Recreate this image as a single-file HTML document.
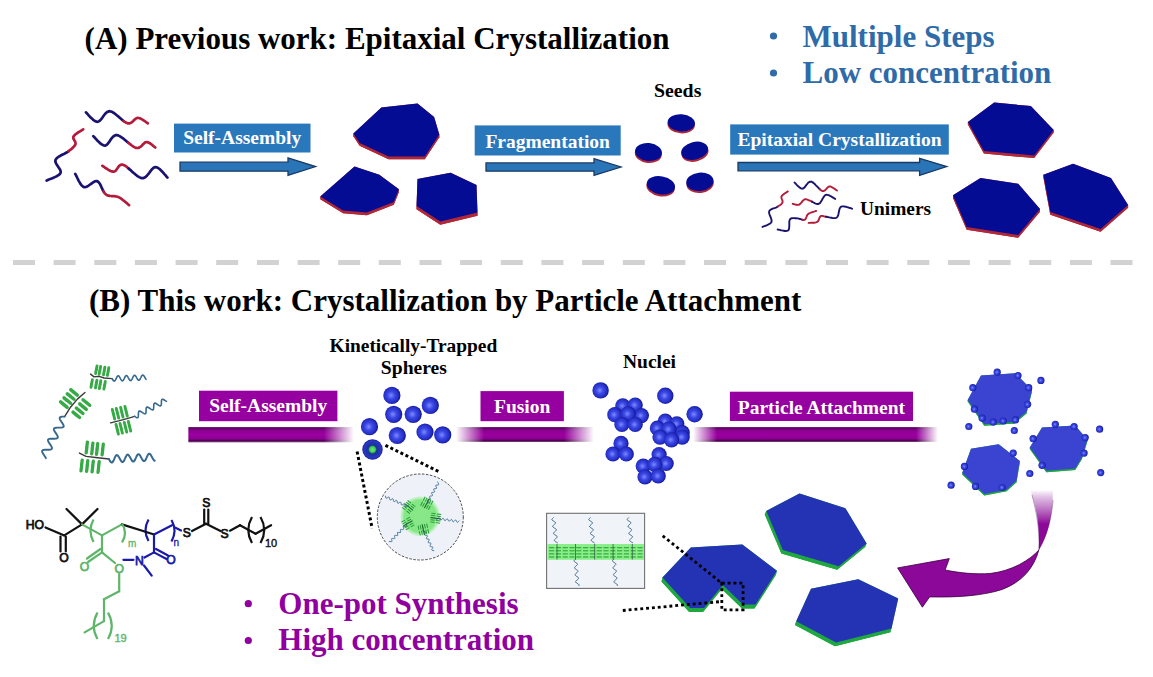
<!DOCTYPE html><html><head><meta charset="utf-8"><style>html,body{margin:0;padding:0;background:#fff;overflow:hidden}svg{display:block}</style></head><body><svg width="1153" height="677" viewBox="0 0 1153 677"><defs>
<radialGradient id="sph" cx="0.45" cy="0.5" r="0.55">
<stop offset="0" stop-color="#7c8cff"/><stop offset="0.4" stop-color="#3c48e4"/><stop offset="0.75" stop-color="#2630c8"/><stop offset="1" stop-color="#10148a"/>
</radialGradient>
<linearGradient id="barV" x1="0" y1="0" x2="0" y2="1">
<stop offset="0" stop-color="#7a3080"/><stop offset="0.1" stop-color="#640068"/><stop offset="0.22" stop-color="#880090"/><stop offset="0.5" stop-color="#9c00a0"/><stop offset="0.76" stop-color="#8c0094"/><stop offset="0.88" stop-color="#520054"/><stop offset="1" stop-color="#8a5a8a"/>
</linearGradient>
</defs>
<text x="84.6" y="48.6" style="font-family:'Liberation Serif',serif;font-weight:bold;font-size:31px" fill="#000" text-anchor="start" >(A) Previous work: Epitaxial Crystallization</text>
<circle cx="773.5" cy="36" r="3.6" fill="#2e6ba8"/>
<circle cx="773.5" cy="73" r="3.6" fill="#2e6ba8"/>
<text x="802.5" y="46.7" style="font-family:'Liberation Serif',serif;font-weight:bold;font-size:31px" fill="#2e6ba8" text-anchor="start" >Multiple Steps</text>
<text x="802.5" y="83.2" style="font-family:'Liberation Serif',serif;font-weight:bold;font-size:31px" fill="#2e6ba8" text-anchor="start" >Low concentration</text>
<rect x="174" y="123.6" width="136.5" height="28.900000000000006" fill="#2a78bc"/>
<text x="242.25" y="144.4" style="font-family:'Liberation Serif',serif;font-weight:bold;font-size:19.5px" fill="#fff" text-anchor="middle" >Self-Assembly</text>
<polygon points="180.0,162.2 288.0,162.2 288.0,158.0 315.6,166.6 288.0,175.4 288.0,171.2 180.0,171.2" fill="#2a74b8" stroke="#1a3a66" stroke-width="1.3"/>
<rect x="474.7" y="125.4" width="146.00000000000006" height="30.099999999999994" fill="#2a78bc"/>
<text x="547.7" y="147.6" style="font-family:'Liberation Serif',serif;font-weight:bold;font-size:19.5px" fill="#fff" text-anchor="middle" >Fragmentation</text>
<polygon points="486.0,162.9 594.0,162.9 594.0,158.7 621.0,167.0 594.0,175.4 594.0,171.2 486.0,171.2" fill="#2a74b8" stroke="#1a3a66" stroke-width="1.3"/>
<rect x="730.2" y="124.4" width="218.5999999999999" height="30.19999999999999" fill="#2a78bc"/>
<text x="839.5" y="146.2" style="font-family:'Liberation Serif',serif;font-weight:bold;font-size:19.5px" fill="#fff" text-anchor="middle" >Epitaxial Crystallization</text>
<polygon points="738.0,162.5 919.6,162.5 919.6,158.3 946.7,166.6 919.6,175.4 919.6,170.8 738.0,170.8" fill="#2a74b8" stroke="#1a3a66" stroke-width="1.3"/>
<polyline points="85.9,112.4 86.5,112.9 87.2,113.7 88.0,114.6 88.9,115.6 89.9,116.7 91.0,117.8 92.1,118.8 93.2,119.8 94.4,120.6 95.5,121.3 96.6,121.7 97.6,121.8 98.6,121.5 99.5,120.9 100.5,120.0 101.4,118.9 102.3,117.7 103.3,116.3 104.2,115.0 105.2,113.8 106.3,112.7 107.3,111.9 108.5,111.4 109.7,111.2 111.0,111.5 112.4,112.1 113.9,113.0 115.5,114.2 117.1,115.5 118.8,116.9 120.4,118.3 122.0,119.7 123.5,121.0" fill="none" stroke="#1a1270" stroke-width="2.7" stroke-linecap="round" stroke-linejoin="round" />
<polyline points="123.5,121.0 125.0,122.0 126.4,122.8 127.6,123.3 128.7,123.4 129.7,123.3 130.7,122.9 131.6,122.4 132.4,121.7 133.2,121.0 133.9,120.3 134.7,119.5 135.4,118.9 136.2,118.4 137.0,118.0 137.8,117.9 138.7,118.0 139.6,118.2 140.6,118.6 141.5,119.1 142.5,119.7 143.5,120.3 144.4,120.9 145.3,121.5 146.1,122.1 146.8,122.6 147.4,123.0 147.9,123.3" fill="none" stroke="#b41a3a" stroke-width="2.7" stroke-linecap="round" stroke-linejoin="round" />
<polyline points="93.3,136.2 93.9,136.7 94.6,137.5 95.4,138.4 96.3,139.4 97.3,140.5 98.4,141.6 99.5,142.6 100.7,143.6 101.8,144.4 102.9,145.1 104.0,145.5 105.0,145.6 106.0,145.3 106.9,144.7 107.7,143.8 108.6,142.7 109.5,141.5 110.4,140.1 111.3,138.8 112.2,137.6 113.2,136.6 114.3,135.7 115.5,135.2 116.7,135.1 118.1,135.4 119.6,136.1 121.2,137.1 123.0,138.3 124.7,139.7 126.5,141.2 128.3,142.7" fill="none" stroke="#1a1270" stroke-width="2.7" stroke-linecap="round" stroke-linejoin="round" />
<polyline points="128.3,142.7 130.1,144.1 131.8,145.5 133.4,146.6 134.9,147.4 136.2,147.9 137.4,148.0 138.5,147.9 139.4,147.5 140.3,146.9 141.2,146.2 142.0,145.5 142.7,144.7 143.4,143.9 144.2,143.2 144.9,142.6 145.6,142.3 146.4,142.1 147.2,142.2 148.1,142.4 148.9,142.8 149.8,143.3 150.7,143.8 151.5,144.4 152.3,145.1 153.0,145.7 153.7,146.3 154.3,146.8 154.9,147.2 155.3,147.5" fill="none" stroke="#b41a3a" stroke-width="2.7" stroke-linecap="round" stroke-linejoin="round" />
<polyline points="46.6,180.5 47.3,180.2 48.3,179.7 49.5,179.3 50.9,178.8 52.4,178.2 53.9,177.6 55.3,176.9 56.8,176.2 58.0,175.4 59.1,174.7 60.0,173.8 60.5,173.0 60.7,172.1 60.6,171.1 60.2,170.0 59.6,168.9 58.8,167.8 58.0,166.6 57.3,165.4 56.5,164.2 55.9,163.1 55.5,162.0 55.3,161.0 55.5,160.0 56.0,159.1 56.7,158.3 57.6,157.5 58.8,156.7 60.0,156.0 61.3,155.2 62.7,154.5 64.0,153.9 65.3,153.2 66.6,152.5 67.7,151.9 68.6,151.2" fill="none" stroke="#1a1270" stroke-width="2.7" stroke-linecap="round" stroke-linejoin="round" />
<polyline points="68.6,151.2 69.4,150.5 70.2,149.9 71.0,149.3 71.7,148.7 72.4,148.1 73.0,147.5 73.6,146.9 74.1,146.4 74.5,145.8 74.9,145.2 75.3,144.6 75.5,144.0 75.6,143.4 75.5,142.8 75.4,142.1 75.1,141.5 74.7,140.9 74.3,140.2 74.0,139.6 73.6,139.0 73.4,138.4 73.3,137.7 73.3,137.1 73.5,136.5 73.9,135.9 74.6,135.2 75.3,134.5 76.2,133.8 77.2,133.1 78.2,132.4 79.3,131.8 80.3,131.2 81.2,130.6 82.0,130.1 82.7,129.6 83.2,129.3" fill="none" stroke="#b41a3a" stroke-width="2.7" stroke-linecap="round" stroke-linejoin="round" />
<polyline points="102.3,165.8 102.9,166.1 103.6,166.6 104.4,167.2 105.3,167.8 106.4,168.5 107.4,169.2 108.5,169.9 109.6,170.5 110.7,171.0 111.8,171.4 112.8,171.6 113.7,171.7 114.5,171.5 115.2,171.0 115.9,170.4 116.5,169.6 117.1,168.7 117.8,167.7 118.4,166.8 119.1,166.0 119.9,165.3 120.7,164.8 121.7,164.6 122.8,164.7 124.1,165.2 125.5,166.0 127.1,167.2 128.7,168.6" fill="none" stroke="#b41a3a" stroke-width="2.7" stroke-linecap="round" stroke-linejoin="round" />
<polyline points="128.7,168.6 130.5,170.1 132.2,171.7 134.0,173.3 135.8,174.8 137.5,176.1 139.2,177.1 140.8,177.9 142.2,178.2 143.5,178.1 144.8,177.5 146.0,176.6 147.1,175.5 148.2,174.2 149.3,172.8 150.3,171.4 151.3,170.1 152.3,168.9 153.3,168.0 154.4,167.3 155.4,167.1 156.5,167.3 157.6,167.7 158.8,168.5 160.0,169.4 161.1,170.5 162.3,171.7 163.4,172.9 164.4,174.1 165.4,175.2 166.2,176.2 166.9,177.0 167.5,177.6" fill="none" stroke="#1a1270" stroke-width="2.7" stroke-linecap="round" stroke-linejoin="round" />
<polyline points="75.2,173.8 75.6,174.5 76.1,175.5 76.7,176.6 77.3,178.0 78.0,179.4 78.7,180.8 79.5,182.2 80.3,183.6 81.2,184.8 82.1,185.8 83.0,186.6 83.9,187.1 84.9,187.2 85.9,187.0 87.0,186.5 88.2,185.8 89.4,185.0 90.6,184.2 91.8,183.3 92.9,182.5 94.1,181.8 95.2,181.3 96.2,181.1 97.2,181.2 98.1,181.7 98.9,182.4 99.6,183.4 100.3,184.6 100.9,185.9 101.5,187.3 102.2,188.7 102.8,190.1 103.5,191.4" fill="none" stroke="#1a1270" stroke-width="2.7" stroke-linecap="round" stroke-linejoin="round" />
<polyline points="103.5,191.4 104.2,192.6 105.0,193.6 105.8,194.4 106.7,195.0 107.7,195.4 108.7,195.7 109.8,195.9 110.9,196.0 112.0,196.1 113.1,196.1 114.2,196.2 115.3,196.3 116.4,196.5 117.4,196.7 118.4,197.1 119.4,197.6 120.4,198.2 121.5,198.9 122.5,199.7 123.5,200.5 124.5,201.3 125.5,202.1 126.4,202.8 127.2,203.5 128.0,204.2 128.6,204.7 129.1,205.1" fill="none" stroke="#b41a3a" stroke-width="2.7" stroke-linecap="round" stroke-linejoin="round" />
<polygon points="353.4,136.2 381.4,110.4 417.5,106.2 434.1,119.7 439.3,137.3 424.8,159.3 388.6,159.3 359.6,145.8" fill="#b02838" />
<polygon points="353.4,133.4 381.4,107.6 381.4,110.4 353.4,136.2" fill="#b02838" />
<polygon points="381.4,107.6 417.5,103.4 417.5,106.2 381.4,110.4" fill="#b02838" />
<polygon points="417.5,103.4 434.1,116.9 434.1,119.7 417.5,106.2" fill="#b02838" />
<polygon points="434.1,116.9 439.3,134.5 439.3,137.3 434.1,119.7" fill="#b02838" />
<polygon points="439.3,134.5 424.8,156.5 424.8,159.3 439.3,137.3" fill="#b02838" />
<polygon points="424.8,156.5 388.6,156.5 388.6,159.3 424.8,159.3" fill="#b02838" />
<polygon points="388.6,156.5 359.6,143.0 359.6,145.8 388.6,159.3" fill="#b02838" />
<polygon points="359.6,143.0 353.4,133.4 353.4,136.2 359.6,145.8" fill="#b02838" />
<polygon points="353.4,133.4 381.4,107.6 417.5,103.4 434.1,116.9 439.3,134.5 424.8,156.5 388.6,156.5 359.6,143.0" fill="#040c94" />
<polygon points="320.3,199.3 354.5,169.3 379.3,177.6 398.9,192.1 393.8,204.8 366.9,215.3 343.1,213.3" fill="#b02838" />
<polygon points="320.3,196.5 354.5,166.5 354.5,169.3 320.3,199.3" fill="#b02838" />
<polygon points="354.5,166.5 379.3,174.8 379.3,177.6 354.5,169.3" fill="#b02838" />
<polygon points="379.3,174.8 398.9,189.3 398.9,192.1 379.3,177.6" fill="#b02838" />
<polygon points="398.9,189.3 393.8,202.0 393.8,204.8 398.9,192.1" fill="#b02838" />
<polygon points="393.8,202.0 366.9,212.5 366.9,215.3 393.8,204.8" fill="#b02838" />
<polygon points="366.9,212.5 343.1,210.5 343.1,213.3 366.9,215.3" fill="#b02838" />
<polygon points="343.1,210.5 320.3,196.5 320.3,199.3 343.1,213.3" fill="#b02838" />
<polygon points="320.3,196.5 354.5,166.5 379.3,174.8 398.9,189.3 393.8,202.0 366.9,212.5 343.1,210.5" fill="#040c94" />
<polygon points="417.5,182.1 450.6,175.9 476.5,188.3 477.5,215.7 440.3,224.7 416.5,209.2" fill="#b02838" />
<polygon points="417.5,178.9 450.6,172.7 450.6,175.9 417.5,182.1" fill="#b02838" />
<polygon points="450.6,172.7 476.5,185.1 476.5,188.3 450.6,175.9" fill="#b02838" />
<polygon points="476.5,185.1 477.5,212.5 477.5,215.7 476.5,188.3" fill="#b02838" />
<polygon points="477.5,212.5 440.3,221.5 440.3,224.7 477.5,215.7" fill="#b02838" />
<polygon points="440.3,221.5 416.5,206.0 416.5,209.2 440.3,224.7" fill="#b02838" />
<polygon points="416.5,206.0 417.5,178.9 417.5,182.1 416.5,209.2" fill="#b02838" />
<polygon points="417.5,178.9 450.6,172.7 476.5,185.1 477.5,212.5 440.3,221.5 416.5,206.0" fill="#040c94" />
<text x="677.7" y="96.9" style="font-family:'Liberation Serif',serif;font-weight:bold;font-size:19.8px" fill="#000" text-anchor="middle" >Seeds</text>
<g transform="translate(681.3,122.8) rotate(4)"><ellipse cx="0" cy="2" rx="13.7" ry="8.6" fill="#b02838"/><ellipse cx="0" cy="0" rx="13.7" ry="8.6" fill="#040c94"/></g>
<g transform="translate(648.5,152) rotate(6)"><ellipse cx="0" cy="2" rx="13.5" ry="9" fill="#b02838"/><ellipse cx="0" cy="0" rx="13.5" ry="9" fill="#040c94"/></g>
<g transform="translate(694.6,150.8) rotate(-14)"><ellipse cx="0" cy="2" rx="13.7" ry="8.8" fill="#b02838"/><ellipse cx="0" cy="0" rx="13.7" ry="8.8" fill="#040c94"/></g>
<g transform="translate(660.9,185.3) rotate(10)"><ellipse cx="0" cy="2" rx="14.3" ry="9" fill="#b02838"/><ellipse cx="0" cy="0" rx="14.3" ry="9" fill="#040c94"/></g>
<g transform="translate(699.9,181.8) rotate(-6)"><ellipse cx="0" cy="2" rx="13.7" ry="9.2" fill="#b02838"/><ellipse cx="0" cy="0" rx="13.7" ry="9.2" fill="#040c94"/></g>
<polygon points="967.9,124.6 994.2,105.2 1030.8,108.6 1053.7,132.6 1034.2,158.1 983.9,153.6" fill="#b02838" />
<polygon points="967.9,122.0 994.2,102.6 994.2,105.2 967.9,124.6" fill="#b02838" />
<polygon points="994.2,102.6 1030.8,106.0 1030.8,108.6 994.2,105.2" fill="#b02838" />
<polygon points="1030.8,106.0 1053.7,130.0 1053.7,132.6 1030.8,108.6" fill="#b02838" />
<polygon points="1053.7,130.0 1034.2,155.5 1034.2,158.1 1053.7,132.6" fill="#b02838" />
<polygon points="1034.2,155.5 983.9,151.0 983.9,153.6 1034.2,158.1" fill="#b02838" />
<polygon points="983.9,151.0 967.9,122.0 967.9,124.6 983.9,153.6" fill="#b02838" />
<polygon points="967.9,122.0 994.2,102.6 1030.8,106.0 1053.7,130.0 1034.2,155.5 983.9,151.0" fill="#040c94" />
<polygon points="953.0,198.1 980.5,180.9 1018.2,186.6 1040.0,211.8 1018.2,237.8 966.7,229.8" fill="#b02838" />
<polygon points="953.0,195.3 980.5,178.1 980.5,180.9 953.0,198.1" fill="#b02838" />
<polygon points="980.5,178.1 1018.2,183.8 1018.2,186.6 980.5,180.9" fill="#b02838" />
<polygon points="1018.2,183.8 1040.0,209.0 1040.0,211.8 1018.2,186.6" fill="#b02838" />
<polygon points="1040.0,209.0 1018.2,235.0 1018.2,237.8 1040.0,211.8" fill="#b02838" />
<polygon points="1018.2,235.0 966.7,227.0 966.7,229.8 1018.2,237.8" fill="#b02838" />
<polygon points="966.7,227.0 953.0,195.3 953.0,198.1 966.7,229.8" fill="#b02838" />
<polygon points="953.0,195.3 980.5,178.1 1018.2,183.8 1040.0,209.0 1018.2,235.0 966.7,227.0" fill="#040c94" />
<polygon points="1043.4,177.5 1073.1,166.5 1110.9,180.9 1128.1,207.8 1100.6,231.8 1050.3,214.8" fill="#b02838" />
<polygon points="1043.4,174.7 1073.1,163.7 1073.1,166.5 1043.4,177.5" fill="#b02838" />
<polygon points="1073.1,163.7 1110.9,178.1 1110.9,180.9 1073.1,166.5" fill="#b02838" />
<polygon points="1110.9,178.1 1128.1,205.0 1128.1,207.8 1110.9,180.9" fill="#b02838" />
<polygon points="1128.1,205.0 1100.6,229.0 1100.6,231.8 1128.1,207.8" fill="#b02838" />
<polygon points="1100.6,229.0 1050.3,212.0 1050.3,214.8 1100.6,231.8" fill="#b02838" />
<polygon points="1050.3,212.0 1043.4,174.7 1043.4,177.5 1050.3,214.8" fill="#b02838" />
<polygon points="1043.4,174.7 1073.1,163.7 1110.9,178.1 1128.1,205.0 1100.6,229.0 1050.3,212.0" fill="#040c94" />
<text x="895.6" y="214.5" style="font-family:'Liberation Serif',serif;font-weight:bold;font-size:19.4px" fill="#000" text-anchor="middle" >Unimers</text>
<polyline points="794.5,182.5 794.9,182.8 795.4,183.3 795.9,183.9 796.5,184.6 797.2,185.3 797.9,186.0 798.7,186.7 799.4,187.4 800.2,187.9 801.0,188.4 801.7,188.6 802.4,188.7 803.1,188.5 803.7,188.1 804.4,187.5 805.1,186.7 805.7,185.8 806.4,184.9 807.1,184.1 807.8,183.2 808.5,182.5 809.3,182.0 810.1,181.7 810.9,181.6 811.8,181.8 812.7,182.4 813.7,183.1 814.7,184.0 815.7,185.1 816.7,186.1 817.8,187.2 818.8,188.3 819.8,189.2" fill="none" stroke="#1a1270" stroke-width="1.9" stroke-linecap="round" stroke-linejoin="round" />
<polyline points="819.8,189.2 820.7,190.0 821.6,190.7 822.4,191.0 823.1,191.1 823.8,191.0 824.5,190.7 825.1,190.2 825.6,189.7 826.2,189.1 826.7,188.5 827.3,187.9 827.8,187.4 828.3,186.9 828.9,186.6 829.5,186.5 830.1,186.5 830.8,186.7 831.5,187.0 832.2,187.4 833.0,187.8 833.7,188.2 834.4,188.7 835.0,189.1 835.6,189.6 836.2,190.0 836.6,190.3 837.0,190.5" fill="none" stroke="#b41a3a" stroke-width="1.9" stroke-linecap="round" stroke-linejoin="round" />
<polyline points="762.5,226.9 763.0,226.7 763.6,226.4 764.4,226.2 765.2,225.8 766.1,225.5 767.1,225.1 768.0,224.7 768.9,224.2 769.7,223.7 770.5,223.2 771.0,222.6 771.4,222.0 771.6,221.3 771.6,220.5 771.4,219.6 771.1,218.6 770.8,217.6 770.4,216.6 770.0,215.6 769.6,214.6 769.3,213.7 769.1,212.8 769.1,212.0 769.2,211.3 769.5,210.7 770.0,210.2 770.5,209.8 771.2,209.4 771.9,209.0 772.7,208.7 773.5,208.4 774.4,208.1 775.2,207.9 775.9,207.6 776.6,207.2 777.2,206.9 777.8,206.5" fill="none" stroke="#1a1270" stroke-width="1.9" stroke-linecap="round" stroke-linejoin="round" />
<polyline points="777.8,206.5 778.3,206.2 778.9,205.8 779.4,205.5 779.9,205.2 780.4,204.8 780.9,204.5 781.3,204.1 781.7,203.7 782.0,203.3 782.3,202.9 782.5,202.5 782.6,202.0 782.6,201.6 782.5,201.0 782.4,200.5 782.2,200.0 782.0,199.4 781.8,198.9 781.6,198.3 781.5,197.8 781.4,197.3 781.4,196.8 781.6,196.3 781.9,195.8 782.3,195.4 782.8,194.9 783.4,194.4 784.0,193.9 784.6,193.5 785.3,193.0 785.9,192.6 786.5,192.3 787.0,191.9 787.5,191.6 787.8,191.4" fill="none" stroke="#b41a3a" stroke-width="1.9" stroke-linecap="round" stroke-linejoin="round" />
<polyline points="792.7,203.8 793.0,203.9 793.4,204.0 793.8,204.1 794.3,204.3 794.9,204.4 795.4,204.6 796.0,204.7 796.6,204.8 797.2,204.9 797.8,204.9 798.4,204.8 798.9,204.7 799.4,204.5 799.9,204.1 800.4,203.7 800.8,203.1 801.3,202.6 801.8,202.0 802.3,201.5 802.7,200.9 803.2,200.4 803.7,200.0 804.1,199.6 804.6,199.4 805.0,199.3 805.5,199.2 805.9,199.2 806.3,199.3 806.7,199.4 807.1,199.5 807.5,199.7 808.0,199.9 808.4,200.1 808.9,200.3 809.4,200.5 810.0,200.7 810.6,200.9 811.3,201.3 812.0,201.6" fill="none" stroke="#b41a3a" stroke-width="1.9" stroke-linecap="round" stroke-linejoin="round" />
<polyline points="812.0,201.6 812.7,202.0 813.5,202.5 814.3,202.9 815.1,203.3 815.9,203.6 816.6,203.8 817.4,204.0 818.1,204.0 818.8,203.8 819.4,203.4 820.1,202.9 820.6,202.1 821.2,201.2 821.8,200.3 822.3,199.3 822.9,198.3 823.4,197.4 824.0,196.5 824.6,195.8 825.2,195.2 825.9,194.9 826.6,194.8 827.4,194.9 828.3,195.1 829.2,195.4 830.1,195.9 831.0,196.3 831.9,196.9 832.7,197.4 833.5,197.9 834.2,198.3 834.7,198.7 835.2,198.9" fill="none" stroke="#1a1270" stroke-width="1.9" stroke-linecap="round" stroke-linejoin="round" />
<polyline points="777.6,229.5 778.1,229.6 778.9,229.7 779.7,229.9 780.7,230.2 781.7,230.4 782.8,230.6 783.9,230.8 784.9,231.0 785.9,231.0 786.8,230.9 787.6,230.7 788.2,230.4 788.6,229.9 788.9,229.1 789.1,228.2 789.2,227.2 789.3,226.1 789.3,225.0 789.3,223.8 789.3,222.7 789.3,221.6 789.5,220.7 789.7,219.9 790.0,219.3 790.4,218.9 790.9,218.5 791.5,218.3 792.1,218.2 792.8,218.1 793.5,218.1 794.2,218.1 794.9,218.2 795.6,218.2 796.3,218.3 797.0,218.4 797.6,218.4 798.2,218.5 798.8,218.6 799.5,218.8 800.1,219.0 800.7,219.2 801.4,219.4 802.0,219.6 802.5,219.8" fill="none" stroke="#1a1270" stroke-width="1.9" stroke-linecap="round" stroke-linejoin="round" />
<polyline points="802.5,219.8 803.1,219.9 803.6,220.0 804.1,219.9 804.6,219.8 805.0,219.6 805.3,219.2 805.6,218.8 805.9,218.3 806.1,217.8 806.3,217.2 806.6,216.6 806.8,216.0 807.1,215.4 807.4,214.9 807.8,214.4 808.2,214.0 808.7,213.6 809.4,213.3 810.1,213.0 810.8,212.7 811.6,212.4 812.4,212.1 813.2,211.8 814.0,211.6 814.7,211.4 815.3,211.2 815.8,211.0 816.2,210.9" fill="none" stroke="#b41a3a" stroke-width="1.9" stroke-linecap="round" stroke-linejoin="round" />
<polyline points="808.6,222.9 809.0,222.9 809.6,222.9 810.2,222.9 811.0,222.8 811.8,222.8 812.6,222.8 813.5,222.8 814.3,222.7 815.1,222.6 815.9,222.4 816.5,222.2 817.1,222.0 817.6,221.7 818.0,221.2 818.3,220.7 818.6,220.2 818.8,219.6 819.0,219.0 819.3,218.4 819.5,217.8 819.7,217.3 820.0,216.9 820.3,216.5 820.6,216.2 821.0,216.0 821.3,215.9 821.7,215.9 822.0,215.9 822.4,215.9 822.8,216.0 823.2,216.1 823.7,216.3 824.2,216.4 824.7,216.5 825.3,216.6 825.9,216.7" fill="none" stroke="#b41a3a" stroke-width="1.9" stroke-linecap="round" stroke-linejoin="round" />
<polyline points="825.9,216.7 826.6,216.8 827.5,217.0 828.4,217.1 829.3,217.4 830.3,217.6 831.4,217.8 832.4,218.0 833.4,218.1 834.3,218.1 835.2,218.1 835.9,217.9 836.6,217.6 837.1,217.1 837.6,216.5 838.0,215.7 838.3,214.8 838.5,213.8 838.7,212.8 838.9,211.8 839.1,210.8 839.3,209.9 839.5,209.1 839.8,208.4 840.1,207.8 840.4,207.4 840.7,207.1 841.1,206.8 841.4,206.6 841.7,206.5 842.0,206.4 842.4,206.4 842.8,206.4 843.2,206.4 843.6,206.4 844.0,206.5 844.5,206.5 845.0,206.6 845.7,206.7 846.4,206.9 847.1,207.1 847.8,207.3 848.6,207.5 849.3,207.8 850.0,208.0 850.7,208.2 851.2,208.4 851.7,208.6 852.1,208.7" fill="none" stroke="#1a1270" stroke-width="1.9" stroke-linecap="round" stroke-linejoin="round" />
<rect x="13.0" y="260" width="22" height="5" fill="#d2d2d2"/>
<rect x="53.6" y="260" width="22" height="5" fill="#d2d2d2"/>
<rect x="94.3" y="260" width="22" height="5" fill="#d2d2d2"/>
<rect x="134.9" y="260" width="22" height="5" fill="#d2d2d2"/>
<rect x="175.6" y="260" width="22" height="5" fill="#d2d2d2"/>
<rect x="216.2" y="260" width="22" height="5" fill="#d2d2d2"/>
<rect x="256.9" y="260" width="22" height="5" fill="#d2d2d2"/>
<rect x="297.6" y="260" width="22" height="5" fill="#d2d2d2"/>
<rect x="338.2" y="260" width="22" height="5" fill="#d2d2d2"/>
<rect x="378.8" y="260" width="22" height="5" fill="#d2d2d2"/>
<rect x="419.5" y="260" width="22" height="5" fill="#d2d2d2"/>
<rect x="460.1" y="260" width="22" height="5" fill="#d2d2d2"/>
<rect x="500.8" y="260" width="22" height="5" fill="#d2d2d2"/>
<rect x="541.4" y="260" width="22" height="5" fill="#d2d2d2"/>
<rect x="582.1" y="260" width="22" height="5" fill="#d2d2d2"/>
<rect x="622.8" y="260" width="22" height="5" fill="#d2d2d2"/>
<rect x="663.4" y="260" width="22" height="5" fill="#d2d2d2"/>
<rect x="704.0" y="260" width="22" height="5" fill="#d2d2d2"/>
<rect x="744.7" y="260" width="22" height="5" fill="#d2d2d2"/>
<rect x="785.4" y="260" width="22" height="5" fill="#d2d2d2"/>
<rect x="826.0" y="260" width="22" height="5" fill="#d2d2d2"/>
<rect x="866.6" y="260" width="22" height="5" fill="#d2d2d2"/>
<rect x="907.3" y="260" width="22" height="5" fill="#d2d2d2"/>
<rect x="947.9" y="260" width="22" height="5" fill="#d2d2d2"/>
<rect x="988.6" y="260" width="22" height="5" fill="#d2d2d2"/>
<rect x="1029.2" y="260" width="22" height="5" fill="#d2d2d2"/>
<rect x="1069.9" y="260" width="22" height="5" fill="#d2d2d2"/>
<rect x="1110.5" y="260" width="22" height="5" fill="#d2d2d2"/>
<text x="89" y="310.8" style="font-family:'Liberation Serif',serif;font-weight:bold;font-size:31px" fill="#000" text-anchor="start" >(B) This work: Crystallization by Particle Attachment</text>

<rect x="199" y="390.7" width="138.39999999999998" height="30.5" fill="#9600a0"/>
<text x="268.2" y="412.1" style="font-family:'Liberation Serif',serif;font-weight:bold;font-size:19.5px" fill="#fff" text-anchor="middle" >Self-Assembly</text>
<rect x="480.5" y="391.1" width="83.39999999999998" height="30.099999999999966" fill="#9600a0"/>
<text x="522.2" y="413.3" style="font-family:'Liberation Serif',serif;font-weight:bold;font-size:19.5px" fill="#fff" text-anchor="middle" >Fusion</text>
<rect x="729.9" y="391.7" width="183.10000000000002" height="29.30000000000001" fill="#9600a0"/>
<text x="821.45" y="413.5" style="font-family:'Liberation Serif',serif;font-weight:bold;font-size:19.5px" fill="#fff" text-anchor="middle" >Particle Attachment</text>
<defs><linearGradient id="m1" x1="0" x2="1" y1="0" y2="0"><stop offset="0.000" stop-color="#fff" stop-opacity="1"/><stop offset="0.819" stop-color="#fff" stop-opacity="1"/><stop offset="1.000" stop-color="#fff" stop-opacity="0"/></linearGradient><mask id="mk1" maskUnits="userSpaceOnUse" x="188.2" y="426.8" width="165.8" height="15.800000000000011"><rect x="188.2" y="426.8" width="165.8" height="15.800000000000011" fill="url(#m1)"/></mask></defs>
<rect x="188.2" y="426.8" width="165.8" height="15.800000000000011" fill="url(#barV)" mask="url(#mk1)"/>
<defs><linearGradient id="m2" x1="0" x2="1" y1="0" y2="0"><stop offset="0.000" stop-color="#fff" stop-opacity="0"/><stop offset="0.203" stop-color="#fff" stop-opacity="1"/><stop offset="0.783" stop-color="#fff" stop-opacity="1"/><stop offset="1.000" stop-color="#fff" stop-opacity="0"/></linearGradient><mask id="mk2" maskUnits="userSpaceOnUse" x="456" y="426.8" width="138" height="15.599999999999966"><rect x="456" y="426.8" width="138" height="15.599999999999966" fill="url(#m2)"/></mask></defs>
<rect x="456" y="426.8" width="138" height="15.599999999999966" fill="url(#barV)" mask="url(#mk2)"/>
<defs><linearGradient id="m3" x1="0" x2="1" y1="0" y2="0"><stop offset="0.000" stop-color="#fff" stop-opacity="0"/><stop offset="0.098" stop-color="#fff" stop-opacity="1"/><stop offset="0.910" stop-color="#fff" stop-opacity="1"/><stop offset="1.000" stop-color="#fff" stop-opacity="0"/></linearGradient><mask id="mk3" maskUnits="userSpaceOnUse" x="693" y="426.8" width="245" height="15.599999999999966"><rect x="693" y="426.8" width="245" height="15.599999999999966" fill="url(#m3)"/></mask></defs>
<rect x="693" y="426.8" width="245" height="15.599999999999966" fill="url(#barV)" mask="url(#mk3)"/>
<text x="413.4" y="351.7" style="font-family:'Liberation Serif',serif;font-weight:bold;font-size:19.4px" fill="#000" text-anchor="middle" >Kinetically-Trapped</text>
<text x="413.9" y="374.4" style="font-family:'Liberation Serif',serif;font-weight:bold;font-size:19.6px" fill="#000" text-anchor="middle" >Spheres</text>
<text x="649.5" y="367.6" style="font-family:'Liberation Serif',serif;font-weight:bold;font-size:19.5px" fill="#000" text-anchor="middle" >Nuclei</text>
<circle cx="391.9" cy="395.4" r="8.6" fill="url(#sph)"/>
<circle cx="430.3" cy="405.4" r="8.6" fill="url(#sph)"/>
<circle cx="393.7" cy="414.3" r="8.6" fill="url(#sph)"/>
<circle cx="413.2" cy="414.3" r="8.6" fill="url(#sph)"/>
<circle cx="369.5" cy="426.7" r="8.6" fill="url(#sph)"/>
<circle cx="397.3" cy="435.5" r="8.6" fill="url(#sph)"/>
<circle cx="425.0" cy="432.0" r="8.6" fill="url(#sph)"/>
<circle cx="442.7" cy="434.9" r="8.6" fill="url(#sph)"/>
<defs><radialGradient id="gcore" cx="0.5" cy="0.5" r="0.5"><stop offset="0" stop-color="#66ee70"/><stop offset="0.28" stop-color="#44c858"/><stop offset="0.42" stop-color="#183a88"/><stop offset="0.6" stop-color="#2030b0"/><stop offset="0.85" stop-color="#2a38c8"/><stop offset="1" stop-color="#161c86"/></radialGradient></defs>
<circle cx="372.5" cy="449.5" r="10.2" fill="url(#gcore)"/>
<line x1="357.1" y1="451.5" x2="372.2" y2="528.6" stroke="#000" stroke-width="3" stroke-dasharray="3 2.6"/>
<line x1="385.4" y1="445.3" x2="439.5" y2="471.9" stroke="#000" stroke-width="3" stroke-dasharray="3 2.6"/>
<defs><radialGradient id="gglow" cx="0.5" cy="0.5" r="0.5"><stop offset="0" stop-color="#8ae88a"/><stop offset="0.8" stop-color="#84e684"/><stop offset="1" stop-color="#a8f0a8" stop-opacity="0.3"/></radialGradient></defs>
<circle cx="420.3" cy="517" r="43" fill="#eef2f8" stroke="#333" stroke-width="0.9" stroke-dasharray="2.5 1.5"/>
<circle cx="420.2" cy="516.2" r="20" fill="url(#gglow)"/>
<polyline points="408.8,506.9 408.6,506.0 408.3,505.5 407.8,505.5 407.0,506.0 406.3,506.5 405.6,506.7 405.2,506.4 405.0,505.6 404.9,504.7 404.6,504.0 404.2,503.8 403.5,504.1 402.7,504.6 402.0,505.0 401.5,504.9 401.2,504.3 401.1,503.3 400.9,502.5 400.5,502.1 399.9,502.2 399.2,502.7 398.4,503.2 397.8,503.3 397.4,502.9 397.3,502.0 397.1,501.1 396.8,500.5 396.3,500.4 395.6,500.8 394.8,501.4 394.2,501.6 393.7,501.4 393.5,500.7 393.3,499.8 393.1,499.0 392.7,498.7 392.1,499.0 391.3,499.5 390.6,499.9 390.0,499.9 389.7,499.4 389.5,498.5 389.4,497.6 389.1,497.1 388.5,497.1 387.7,497.6 387.0,498.1 386.3,498.3 385.9,498.0 385.7,497.2 385.6,496.2" fill="none" stroke="#3a6a92" stroke-width="0.9" stroke-linecap="round" stroke-linejoin="round" />
<polyline points="426.9,503.3 427.8,503.2 428.4,503.0 428.4,502.4 428.0,501.6 427.6,500.8 427.4,500.1 427.9,499.8 428.7,499.6 429.6,499.6 430.3,499.4 430.5,498.9 430.2,498.2 429.7,497.3 429.5,496.6 429.8,496.2 430.5,496.0 431.5,496.0 432.2,495.8 432.5,495.4 432.4,494.7 431.9,493.9 431.6,493.1 431.7,492.6 432.3,492.4 433.3,492.3 434.1,492.2 434.6,491.9 434.5,491.3 434.1,490.4 433.7,489.6 433.7,489.0 434.2,488.7 435.1,488.7 436.0,488.6 436.6,488.3 436.6,487.8 436.3,487.0 435.8,486.2 435.7,485.5 436.0,485.1 436.8,485.0 437.8,485.0 438.5,484.8 438.7,484.3 438.5,483.6 438.0,482.7 437.7,482.0" fill="none" stroke="#3a6a92" stroke-width="0.9" stroke-linecap="round" stroke-linejoin="round" />
<polyline points="435.7,518.3 436.1,519.1 436.5,519.5 437.1,519.4 437.7,518.7 438.3,518.0 438.8,517.6 439.3,517.8 439.7,518.5 440.1,519.4 440.5,520.0 441.0,520.1 441.6,519.6 442.2,518.9 442.8,518.3 443.3,518.3 443.7,518.8 444.1,519.6 444.5,520.4 445.0,520.7 445.5,520.4 446.1,519.7 446.7,519.0 447.3,518.8 447.7,519.1 448.1,519.9 448.5,520.7 448.9,521.2 449.5,521.1 450.0,520.6 450.6,519.9 451.2,519.4 451.7,519.5 452.1,520.1 452.5,521.0 452.9,521.6 453.4,521.8 454.0,521.4 454.6,520.7 455.2,520.1 455.7,519.9 456.1,520.4 456.5,521.2 456.9,522.0 457.4,522.4 457.9,522.2 458.5,521.6 459.1,520.9" fill="none" stroke="#3a6a92" stroke-width="0.9" stroke-linecap="round" stroke-linejoin="round" />
<polyline points="407.8,523.4 406.9,523.2 406.3,523.4 406.1,523.9 406.3,524.8 406.5,525.7 406.5,526.3 406.0,526.6 405.2,526.5 404.2,526.3 403.5,526.3 403.2,526.7 403.3,527.5 403.6,528.5 403.6,529.2 403.3,529.6 402.5,529.6 401.6,529.4 400.8,529.3 400.4,529.6 400.4,530.3 400.6,531.2 400.7,532.0 400.5,532.5 399.9,532.6 399.0,532.5 398.1,532.3 397.5,532.5 397.4,533.1 397.6,534.0 397.8,534.8 397.7,535.5 397.2,535.7 396.3,535.5 395.4,535.4 394.7,535.4 394.5,535.9 394.6,536.7 394.8,537.6 394.9,538.3 394.5,538.7 393.7,538.6 392.8,538.4 392.0,538.4 391.6,538.7 391.6,539.5 391.9,540.4 392.0,541.2 391.7,541.7 391.0,541.7 390.1,541.5 389.3,541.4" fill="none" stroke="#3a6a92" stroke-width="0.9" stroke-linecap="round" stroke-linejoin="round" />
<polyline points="423.3,529.6 422.8,530.4 422.7,531.0 423.2,531.3 424.1,531.5 425.0,531.6 425.6,531.9 425.6,532.4 425.2,533.2 424.7,534.0 424.5,534.7 424.8,535.1 425.6,535.3 426.6,535.4 427.3,535.6 427.5,536.1 427.1,536.8 426.6,537.6 426.3,538.3 426.5,538.8 427.2,539.0 428.2,539.1 429.0,539.3 429.3,539.7 429.0,540.4 428.5,541.2 428.1,542.0 428.2,542.5 428.8,542.8 429.7,542.9 430.6,543.1 431.0,543.4 430.9,544.0 430.5,544.8 430.0,545.6 429.9,546.2 430.4,546.5 431.3,546.7 432.2,546.8 432.8,547.1 432.8,547.7 432.4,548.4 431.9,549.2 431.7,549.9 432.0,550.3 432.8,550.5 433.8,550.6" fill="none" stroke="#3a6a92" stroke-width="0.9" stroke-linecap="round" stroke-linejoin="round" />
<g transform="translate(408.8,506.9) rotate(-140.8)">
<rect x="-5" y="-5.0" width="4.3" height="0.95" fill="#1e9a2e"/>
<rect x="0.7" y="-5.0" width="4.3" height="0.95" fill="#1e9a2e"/>
<rect x="-5" y="-2.8" width="4.3" height="0.95" fill="#1e9a2e"/>
<rect x="0.7" y="-2.8" width="4.3" height="0.95" fill="#1e9a2e"/>
<rect x="-5" y="-0.6" width="4.3" height="0.95" fill="#1e9a2e"/>
<rect x="0.7" y="-0.6" width="4.3" height="0.95" fill="#1e9a2e"/>
<rect x="-5" y="1.6" width="4.3" height="0.95" fill="#1e9a2e"/>
<rect x="0.7" y="1.6" width="4.3" height="0.95" fill="#1e9a2e"/>
<rect x="-5" y="3.8" width="4.3" height="0.95" fill="#1e9a2e"/>
<rect x="0.7" y="3.8" width="4.3" height="0.95" fill="#1e9a2e"/>
<line x1="-5.5" y1="0" x2="5.5" y2="0" stroke="#2a4a3a" stroke-width="0.7"/>
</g>
<g transform="translate(426.9,503.3) rotate(-62.6)">
<rect x="-5" y="-5.0" width="4.3" height="0.95" fill="#1e9a2e"/>
<rect x="0.7" y="-5.0" width="4.3" height="0.95" fill="#1e9a2e"/>
<rect x="-5" y="-2.8" width="4.3" height="0.95" fill="#1e9a2e"/>
<rect x="0.7" y="-2.8" width="4.3" height="0.95" fill="#1e9a2e"/>
<rect x="-5" y="-0.6" width="4.3" height="0.95" fill="#1e9a2e"/>
<rect x="0.7" y="-0.6" width="4.3" height="0.95" fill="#1e9a2e"/>
<rect x="-5" y="1.6" width="4.3" height="0.95" fill="#1e9a2e"/>
<rect x="0.7" y="1.6" width="4.3" height="0.95" fill="#1e9a2e"/>
<rect x="-5" y="3.8" width="4.3" height="0.95" fill="#1e9a2e"/>
<rect x="0.7" y="3.8" width="4.3" height="0.95" fill="#1e9a2e"/>
<line x1="-5.5" y1="0" x2="5.5" y2="0" stroke="#2a4a3a" stroke-width="0.7"/>
</g>
<g transform="translate(435.7,518.3) rotate(7.7)">
<rect x="-5" y="-5.0" width="4.3" height="0.95" fill="#1e9a2e"/>
<rect x="0.7" y="-5.0" width="4.3" height="0.95" fill="#1e9a2e"/>
<rect x="-5" y="-2.8" width="4.3" height="0.95" fill="#1e9a2e"/>
<rect x="0.7" y="-2.8" width="4.3" height="0.95" fill="#1e9a2e"/>
<rect x="-5" y="-0.6" width="4.3" height="0.95" fill="#1e9a2e"/>
<rect x="0.7" y="-0.6" width="4.3" height="0.95" fill="#1e9a2e"/>
<rect x="-5" y="1.6" width="4.3" height="0.95" fill="#1e9a2e"/>
<rect x="0.7" y="1.6" width="4.3" height="0.95" fill="#1e9a2e"/>
<rect x="-5" y="3.8" width="4.3" height="0.95" fill="#1e9a2e"/>
<rect x="0.7" y="3.8" width="4.3" height="0.95" fill="#1e9a2e"/>
<line x1="-5.5" y1="0" x2="5.5" y2="0" stroke="#2a4a3a" stroke-width="0.7"/>
</g>
<g transform="translate(407.8,523.4) rotate(149.9)">
<rect x="-5" y="-5.0" width="4.3" height="0.95" fill="#1e9a2e"/>
<rect x="0.7" y="-5.0" width="4.3" height="0.95" fill="#1e9a2e"/>
<rect x="-5" y="-2.8" width="4.3" height="0.95" fill="#1e9a2e"/>
<rect x="0.7" y="-2.8" width="4.3" height="0.95" fill="#1e9a2e"/>
<rect x="-5" y="-0.6" width="4.3" height="0.95" fill="#1e9a2e"/>
<rect x="0.7" y="-0.6" width="4.3" height="0.95" fill="#1e9a2e"/>
<rect x="-5" y="1.6" width="4.3" height="0.95" fill="#1e9a2e"/>
<rect x="0.7" y="1.6" width="4.3" height="0.95" fill="#1e9a2e"/>
<rect x="-5" y="3.8" width="4.3" height="0.95" fill="#1e9a2e"/>
<rect x="0.7" y="3.8" width="4.3" height="0.95" fill="#1e9a2e"/>
<line x1="-5.5" y1="0" x2="5.5" y2="0" stroke="#2a4a3a" stroke-width="0.7"/>
</g>
<g transform="translate(423.3,529.6) rotate(77.0)">
<rect x="-5" y="-5.0" width="4.3" height="0.95" fill="#1e9a2e"/>
<rect x="0.7" y="-5.0" width="4.3" height="0.95" fill="#1e9a2e"/>
<rect x="-5" y="-2.8" width="4.3" height="0.95" fill="#1e9a2e"/>
<rect x="0.7" y="-2.8" width="4.3" height="0.95" fill="#1e9a2e"/>
<rect x="-5" y="-0.6" width="4.3" height="0.95" fill="#1e9a2e"/>
<rect x="0.7" y="-0.6" width="4.3" height="0.95" fill="#1e9a2e"/>
<rect x="-5" y="1.6" width="4.3" height="0.95" fill="#1e9a2e"/>
<rect x="0.7" y="1.6" width="4.3" height="0.95" fill="#1e9a2e"/>
<rect x="-5" y="3.8" width="4.3" height="0.95" fill="#1e9a2e"/>
<rect x="0.7" y="3.8" width="4.3" height="0.95" fill="#1e9a2e"/>
<line x1="-5.5" y1="0" x2="5.5" y2="0" stroke="#2a4a3a" stroke-width="0.7"/>
</g>
<circle cx="600.6" cy="390.4" r="8.2" fill="url(#sph)"/>
<circle cx="665.3" cy="395.7" r="8.2" fill="url(#sph)"/>
<circle cx="694.6" cy="414.3" r="8.2" fill="url(#sph)"/>
<circle cx="622.8" cy="405.9" r="7.6" fill="url(#sph)"/>
<circle cx="635.2" cy="405.0" r="7.6" fill="url(#sph)"/>
<circle cx="614.8" cy="414.7" r="7.6" fill="url(#sph)"/>
<circle cx="641.4" cy="415.6" r="7.6" fill="url(#sph)"/>
<circle cx="628.1" cy="413.8" r="7.6" fill="url(#sph)"/>
<circle cx="621.9" cy="424.5" r="7.6" fill="url(#sph)"/>
<circle cx="635.2" cy="424.5" r="7.6" fill="url(#sph)"/>
<circle cx="665.3" cy="421.2" r="7.6" fill="url(#sph)"/>
<circle cx="676.8" cy="423.8" r="7.6" fill="url(#sph)"/>
<circle cx="657.4" cy="428.2" r="7.6" fill="url(#sph)"/>
<circle cx="682.2" cy="432.7" r="7.6" fill="url(#sph)"/>
<circle cx="668.9" cy="429.1" r="7.6" fill="url(#sph)"/>
<circle cx="660.0" cy="437.1" r="7.6" fill="url(#sph)"/>
<circle cx="682.2" cy="437.1" r="7.6" fill="url(#sph)"/>
<circle cx="671.5" cy="439.8" r="7.6" fill="url(#sph)"/>
<circle cx="621.0" cy="443.4" r="7.6" fill="url(#sph)"/>
<circle cx="613.0" cy="454.0" r="7.6" fill="url(#sph)"/>
<circle cx="626.3" cy="454.0" r="7.6" fill="url(#sph)"/>
<circle cx="659.1" cy="454.6" r="7.6" fill="url(#sph)"/>
<circle cx="643.2" cy="466.1" r="7.6" fill="url(#sph)"/>
<circle cx="666.2" cy="463.5" r="7.6" fill="url(#sph)"/>
<circle cx="654.7" cy="464.4" r="7.6" fill="url(#sph)"/>
<circle cx="645.0" cy="476.8" r="7.6" fill="url(#sph)"/>
<circle cx="658.2" cy="475.9" r="7.6" fill="url(#sph)"/>
<polygon points="967.7,401.4 981.0,377.0 1015.4,374.8 1032.0,391.4 1026.5,413.6 1014.3,423.6 984.3,425.8" fill="#20a840" />
<polygon points="967.7,399.9 981.0,375.5 981.0,377.0 967.7,401.4" fill="#20a840" />
<polygon points="981.0,375.5 1015.4,373.3 1015.4,374.8 981.0,377.0" fill="#20a840" />
<polygon points="1015.4,373.3 1032.0,389.9 1032.0,391.4 1015.4,374.8" fill="#20a840" />
<polygon points="1032.0,389.9 1026.5,412.1 1026.5,413.6 1032.0,391.4" fill="#20a840" />
<polygon points="1026.5,412.1 1014.3,422.1 1014.3,423.6 1026.5,413.6" fill="#20a840" />
<polygon points="1014.3,422.1 984.3,424.3 984.3,425.8 1014.3,423.6" fill="#20a840" />
<polygon points="984.3,424.3 967.7,399.9 967.7,401.4 984.3,425.8" fill="#20a840" />
<polygon points="967.7,399.9 981.0,375.5 1015.4,373.3 1032.0,389.9 1026.5,412.1 1014.3,422.1 984.3,424.3" fill="#3a44d0" />
<polygon points="1029.8,449.1 1042.0,429.1 1075.2,426.9 1087.4,441.3 1081.9,459.0 1075.2,470.1 1046.4,472.3" fill="#20a840" />
<polygon points="1029.8,447.6 1042.0,427.6 1042.0,429.1 1029.8,449.1" fill="#20a840" />
<polygon points="1042.0,427.6 1075.2,425.4 1075.2,426.9 1042.0,429.1" fill="#20a840" />
<polygon points="1075.2,425.4 1087.4,439.8 1087.4,441.3 1075.2,426.9" fill="#20a840" />
<polygon points="1087.4,439.8 1081.9,457.5 1081.9,459.0 1087.4,441.3" fill="#20a840" />
<polygon points="1081.9,457.5 1075.2,468.6 1075.2,470.1 1081.9,459.0" fill="#20a840" />
<polygon points="1075.2,468.6 1046.4,470.8 1046.4,472.3 1075.2,470.1" fill="#20a840" />
<polygon points="1046.4,470.8 1029.8,447.6 1029.8,449.1 1046.4,472.3" fill="#20a840" />
<polygon points="1029.8,447.6 1042.0,427.6 1075.2,425.4 1087.4,439.8 1081.9,457.5 1075.2,468.6 1046.4,470.8" fill="#3a44d0" />
<polygon points="962.2,474.5 971.0,450.2 998.7,445.7 1019.8,462.4 1016.5,482.3 1006.5,491.2 984.3,495.6" fill="#20a840" />
<polygon points="962.2,473.0 971.0,448.7 971.0,450.2 962.2,474.5" fill="#20a840" />
<polygon points="971.0,448.7 998.7,444.2 998.7,445.7 971.0,450.2" fill="#20a840" />
<polygon points="998.7,444.2 1019.8,460.9 1019.8,462.4 998.7,445.7" fill="#20a840" />
<polygon points="1019.8,460.9 1016.5,480.8 1016.5,482.3 1019.8,462.4" fill="#20a840" />
<polygon points="1016.5,480.8 1006.5,489.7 1006.5,491.2 1016.5,482.3" fill="#20a840" />
<polygon points="1006.5,489.7 984.3,494.1 984.3,495.6 1006.5,491.2" fill="#20a840" />
<polygon points="984.3,494.1 962.2,473.0 962.2,474.5 984.3,495.6" fill="#20a840" />
<polygon points="962.2,473.0 971.0,448.7 998.7,444.2 1019.8,460.9 1016.5,480.8 1006.5,489.7 984.3,494.1" fill="#3a44d0" />
<circle cx="997.2" cy="372.2" r="3.6" fill="url(#sph)"/>
<circle cx="1018.0" cy="375.5" r="3.6" fill="url(#sph)"/>
<circle cx="1028.7" cy="387.7" r="3.6" fill="url(#sph)"/>
<circle cx="1027.6" cy="404.3" r="3.6" fill="url(#sph)"/>
<circle cx="1015.4" cy="419.9" r="3.6" fill="url(#sph)"/>
<circle cx="1003.2" cy="421.0" r="3.6" fill="url(#sph)"/>
<circle cx="993.2" cy="422.1" r="3.6" fill="url(#sph)"/>
<circle cx="982.1" cy="418.1" r="3.6" fill="url(#sph)"/>
<circle cx="974.4" cy="409.2" r="3.6" fill="url(#sph)"/>
<circle cx="972.8" cy="387.7" r="3.6" fill="url(#sph)"/>
<circle cx="1040.9" cy="380.4" r="3.6" fill="url(#sph)"/>
<circle cx="968.8" cy="426.5" r="3.6" fill="url(#sph)"/>
<circle cx="1014.3" cy="430.5" r="3.6" fill="url(#sph)"/>
<circle cx="1055.3" cy="424.3" r="3.6" fill="url(#sph)"/>
<circle cx="1074.1" cy="426.5" r="3.6" fill="url(#sph)"/>
<circle cx="1085.2" cy="437.6" r="3.6" fill="url(#sph)"/>
<circle cx="1084.1" cy="453.1" r="3.6" fill="url(#sph)"/>
<circle cx="1042.0" cy="465.3" r="3.6" fill="url(#sph)"/>
<circle cx="1033.1" cy="438.7" r="3.6" fill="url(#sph)"/>
<circle cx="1099.6" cy="429.2" r="3.6" fill="url(#sph)"/>
<circle cx="1100.7" cy="472.6" r="3.6" fill="url(#sph)"/>
<circle cx="1029.8" cy="473.5" r="3.6" fill="url(#sph)"/>
<circle cx="1013.2" cy="453.1" r="3.6" fill="url(#sph)"/>
<circle cx="964.4" cy="466.4" r="3.6" fill="url(#sph)"/>
<circle cx="975.5" cy="486.4" r="3.6" fill="url(#sph)"/>
<circle cx="1002.1" cy="487.5" r="3.6" fill="url(#sph)"/>
<circle cx="951.1" cy="485.2" r="3.6" fill="url(#sph)"/>
<defs><linearGradient id="arrF" gradientUnits="userSpaceOnUse" x1="0" y1="490" x2="0" y2="524"><stop offset="0" stop-color="#8c0898" stop-opacity="0"/><stop offset="0.25" stop-color="#9a30a4" stop-opacity="0.35"/><stop offset="1" stop-color="#8c0898" stop-opacity="1"/></linearGradient></defs>
<path d="M1029.9,489 C1036,505 1040,525 1038.8,550 C1046,538 1053,520 1053,489 Z" fill="url(#arrF)"/>
<path d="M1038.8,550 C1030,560 1012,571 990,573.5 C975,574.5 960,573 945.1,570 L949.3,558.6 L897.6,567.9 L922.4,607.2 L929.6,596.9 C955,597.5 982,596 1002,589.5 C1022,582 1034,568 1038.8,550 Z" fill="#8c0898" stroke="#3a0040" stroke-width="0.8"/>
<path d="M1038.8,550 C1040,530 1036,510 1032,495 M1038.8,550 C1048,535 1052,515 1053,500" fill="none" stroke="#3a0040" stroke-width="0.6" opacity="0.6"/>
<polygon points="764.8,514.4 798.0,497.1 843.9,511.8 865.1,547.0 837.2,569.7 781.4,553.6" fill="#20a840" />
<polygon points="766.3,510.9 799.5,493.6 798.0,497.1 764.8,514.4" fill="#20a840" />
<polygon points="799.5,493.6 845.4,508.3 843.9,511.8 798.0,497.1" fill="#20a840" />
<polygon points="845.4,508.3 866.6,543.5 865.1,547.0 843.9,511.8" fill="#20a840" />
<polygon points="866.6,543.5 838.7,566.2 837.2,569.7 865.1,547.0" fill="#20a840" />
<polygon points="838.7,566.2 782.9,550.1 781.4,553.6 837.2,569.7" fill="#20a840" />
<polygon points="782.9,550.1 766.3,510.9 764.8,514.4 781.4,553.6" fill="#20a840" />
<polygon points="766.3,510.9 799.5,493.6 845.4,508.3 866.6,543.5 838.7,566.2 782.9,550.1" fill="#2432b4" />
<polygon points="795.0,625.1 809.8,592.6 857.1,583.0 897.0,602.2 890.3,632.2 834.9,646.2" fill="#20a840" />
<polygon points="796.2,621.3 811.0,588.8 809.8,592.6 795.0,625.1" fill="#20a840" />
<polygon points="811.0,588.8 858.3,579.2 857.1,583.0 809.8,592.6" fill="#20a840" />
<polygon points="858.3,579.2 898.2,598.4 897.0,602.2 857.1,583.0" fill="#20a840" />
<polygon points="898.2,598.4 891.5,628.4 890.3,632.2 897.0,602.2" fill="#20a840" />
<polygon points="891.5,628.4 836.1,642.4 834.9,646.2 890.3,632.2" fill="#20a840" />
<polygon points="836.1,642.4 796.2,621.3 795.0,625.1 834.9,646.2" fill="#20a840" />
<polygon points="796.2,621.3 811.0,588.8 858.3,579.2 898.2,598.4 891.5,628.4 836.1,642.4" fill="#2432b4" />
<polygon points="661.5,581.5 689.8,551.6 741.3,548.4 775.9,574.8 754.5,608.5 742.0,608.5 721.8,589.0 703.0,612.0 689.2,612.0" fill="#20a840" />
<polygon points="662.5,577.5 690.8,547.6 689.8,551.6 661.5,581.5" fill="#20a840" />
<polygon points="690.8,547.6 742.3,544.4 741.3,548.4 689.8,551.6" fill="#20a840" />
<polygon points="742.3,544.4 776.9,570.8 775.9,574.8 741.3,548.4" fill="#20a840" />
<polygon points="776.9,570.8 755.5,604.5 754.5,608.5 775.9,574.8" fill="#20a840" />
<polygon points="755.5,604.5 743.0,604.5 742.0,608.5 754.5,608.5" fill="#20a840" />
<polygon points="743.0,604.5 722.8,585.0 721.8,589.0 742.0,608.5" fill="#20a840" />
<polygon points="722.8,585.0 704.0,608.0 703.0,612.0 721.8,589.0" fill="#20a840" />
<polygon points="704.0,608.0 690.2,608.0 689.2,612.0 703.0,612.0" fill="#20a840" />
<polygon points="690.2,608.0 662.5,577.5 661.5,581.5 689.2,612.0" fill="#20a840" />
<polygon points="662.5,577.5 690.8,547.6 742.3,544.4 776.9,570.8 755.5,604.5 743.0,604.5 722.8,585.0 704.0,608.0 690.2,608.0" fill="#2432b4" />
<line x1="662.7" y1="535.8" x2="722.8" y2="584" stroke="#000" stroke-width="2.8" stroke-dasharray="2.9 2.95"/>
<line x1="622.8" y1="610.5" x2="721.6" y2="601.5" stroke="#000" stroke-width="2.8" stroke-dasharray="2.9 2.95"/>
<rect x="721.8" y="583.2" width="21.3" height="26.6" fill="none" stroke="#000" stroke-width="2.8" stroke-dasharray="2.9 2.95"/>
<rect x="546.6" y="513.3" width="98" height="75.1" fill="#f0f3f8" stroke="#707070" stroke-width="1.1"/>
<rect x="547.5" y="544" width="96.5" height="15.8" fill="#8aee8a"/>
<rect x="549.0" y="547.0" width="5.2" height="1.3" fill="#38b040"/>
<rect x="555.8" y="547.0" width="5.2" height="1.3" fill="#38b040"/>
<rect x="562.6" y="547.0" width="5.2" height="1.3" fill="#38b040"/>
<rect x="569.4" y="547.0" width="5.2" height="1.3" fill="#38b040"/>
<rect x="576.2" y="547.0" width="5.2" height="1.3" fill="#38b040"/>
<rect x="583.0" y="547.0" width="5.2" height="1.3" fill="#38b040"/>
<rect x="589.8" y="547.0" width="5.2" height="1.3" fill="#38b040"/>
<rect x="596.6" y="547.0" width="5.2" height="1.3" fill="#38b040"/>
<rect x="603.4" y="547.0" width="5.2" height="1.3" fill="#38b040"/>
<rect x="610.2" y="547.0" width="5.2" height="1.3" fill="#38b040"/>
<rect x="617.0" y="547.0" width="5.2" height="1.3" fill="#38b040"/>
<rect x="623.8" y="547.0" width="5.2" height="1.3" fill="#38b040"/>
<rect x="630.6" y="547.0" width="5.2" height="1.3" fill="#38b040"/>
<rect x="637.4" y="547.0" width="5.2" height="1.3" fill="#38b040"/>
<rect x="549.0" y="550.1" width="5.2" height="1.3" fill="#38b040"/>
<rect x="555.8" y="550.1" width="5.2" height="1.3" fill="#38b040"/>
<rect x="562.6" y="550.1" width="5.2" height="1.3" fill="#38b040"/>
<rect x="569.4" y="550.1" width="5.2" height="1.3" fill="#38b040"/>
<rect x="576.2" y="550.1" width="5.2" height="1.3" fill="#38b040"/>
<rect x="583.0" y="550.1" width="5.2" height="1.3" fill="#38b040"/>
<rect x="589.8" y="550.1" width="5.2" height="1.3" fill="#38b040"/>
<rect x="596.6" y="550.1" width="5.2" height="1.3" fill="#38b040"/>
<rect x="603.4" y="550.1" width="5.2" height="1.3" fill="#38b040"/>
<rect x="610.2" y="550.1" width="5.2" height="1.3" fill="#38b040"/>
<rect x="617.0" y="550.1" width="5.2" height="1.3" fill="#38b040"/>
<rect x="623.8" y="550.1" width="5.2" height="1.3" fill="#38b040"/>
<rect x="630.6" y="550.1" width="5.2" height="1.3" fill="#38b040"/>
<rect x="637.4" y="550.1" width="5.2" height="1.3" fill="#38b040"/>
<rect x="549.0" y="553.2" width="5.2" height="1.3" fill="#38b040"/>
<rect x="555.8" y="553.2" width="5.2" height="1.3" fill="#38b040"/>
<rect x="562.6" y="553.2" width="5.2" height="1.3" fill="#38b040"/>
<rect x="569.4" y="553.2" width="5.2" height="1.3" fill="#38b040"/>
<rect x="576.2" y="553.2" width="5.2" height="1.3" fill="#38b040"/>
<rect x="583.0" y="553.2" width="5.2" height="1.3" fill="#38b040"/>
<rect x="589.8" y="553.2" width="5.2" height="1.3" fill="#38b040"/>
<rect x="596.6" y="553.2" width="5.2" height="1.3" fill="#38b040"/>
<rect x="603.4" y="553.2" width="5.2" height="1.3" fill="#38b040"/>
<rect x="610.2" y="553.2" width="5.2" height="1.3" fill="#38b040"/>
<rect x="617.0" y="553.2" width="5.2" height="1.3" fill="#38b040"/>
<rect x="623.8" y="553.2" width="5.2" height="1.3" fill="#38b040"/>
<rect x="630.6" y="553.2" width="5.2" height="1.3" fill="#38b040"/>
<rect x="637.4" y="553.2" width="5.2" height="1.3" fill="#38b040"/>
<rect x="549.0" y="556.3" width="5.2" height="1.3" fill="#38b040"/>
<rect x="555.8" y="556.3" width="5.2" height="1.3" fill="#38b040"/>
<rect x="562.6" y="556.3" width="5.2" height="1.3" fill="#38b040"/>
<rect x="569.4" y="556.3" width="5.2" height="1.3" fill="#38b040"/>
<rect x="576.2" y="556.3" width="5.2" height="1.3" fill="#38b040"/>
<rect x="583.0" y="556.3" width="5.2" height="1.3" fill="#38b040"/>
<rect x="589.8" y="556.3" width="5.2" height="1.3" fill="#38b040"/>
<rect x="596.6" y="556.3" width="5.2" height="1.3" fill="#38b040"/>
<rect x="603.4" y="556.3" width="5.2" height="1.3" fill="#38b040"/>
<rect x="610.2" y="556.3" width="5.2" height="1.3" fill="#38b040"/>
<rect x="617.0" y="556.3" width="5.2" height="1.3" fill="#38b040"/>
<rect x="623.8" y="556.3" width="5.2" height="1.3" fill="#38b040"/>
<rect x="630.6" y="556.3" width="5.2" height="1.3" fill="#38b040"/>
<rect x="637.4" y="556.3" width="5.2" height="1.3" fill="#38b040"/>
<line x1="557" y1="544" x2="557" y2="559.5" stroke="#2a4a3a" stroke-width="0.7"/>
<line x1="575.5" y1="544" x2="575.5" y2="559.5" stroke="#2a4a3a" stroke-width="0.7"/>
<line x1="594.7" y1="544" x2="594.7" y2="559.5" stroke="#2a4a3a" stroke-width="0.7"/>
<line x1="613.1" y1="544" x2="613.1" y2="559.5" stroke="#2a4a3a" stroke-width="0.7"/>
<line x1="632.3" y1="544" x2="632.3" y2="559.5" stroke="#2a4a3a" stroke-width="0.7"/>
<polyline points="553.3,517.7 552.7,518.3 552.2,518.9 551.9,519.4 552.0,519.9 552.4,520.4 553.0,520.8 553.8,521.2 554.6,521.7 555.2,522.1 555.5,522.6 555.5,523.1 555.2,523.6 554.6,524.2 553.9,524.8 553.3,525.4 552.9,526.0 552.7,526.5 552.9,527.0 553.4,527.4 554.1,527.9 554.8,528.3 555.6,528.7 556.1,529.2 556.3,529.7 556.2,530.2 555.9,530.7 555.3,531.3 554.6,531.9 554.0,532.5 553.6,533.1 553.6,533.6 553.8,534.1 554.4,534.5 555.1,534.9 555.9,535.4 556.6,535.8 557.0,536.2 557.2,536.7 557.0,537.3 556.5,537.8 555.9,538.4 555.3,539.0 554.7,539.6 554.4,540.1 554.4,540.7 554.8,541.1 555.4,541.6 556.1,542.0 556.9,542.4 557.5,542.9" fill="none" stroke="#305a80" stroke-width="0.9" stroke-linecap="round" stroke-linejoin="round" />
<polyline points="590.2,517.7 589.6,518.3 589.1,518.9 588.8,519.4 588.9,519.9 589.3,520.4 589.9,520.8 590.7,521.2 591.5,521.7 592.1,522.1 592.4,522.6 592.4,523.1 592.1,523.6 591.5,524.2 590.8,524.8 590.2,525.4 589.8,526.0 589.6,526.5 589.8,527.0 590.3,527.4 591.0,527.9 591.7,528.3 592.5,528.7 593.0,529.2 593.2,529.7 593.1,530.2 592.8,530.7 592.2,531.3 591.5,531.9 590.9,532.5 590.5,533.1 590.5,533.6 590.7,534.1 591.3,534.5 592.0,534.9 592.8,535.4 593.5,535.8 593.9,536.2 594.1,536.7 593.9,537.3 593.4,537.8 592.8,538.4 592.2,539.0 591.6,539.6 591.3,540.1 591.3,540.7 591.7,541.1 592.3,541.6 593.0,542.0 593.8,542.4 594.4,542.9" fill="none" stroke="#305a80" stroke-width="0.9" stroke-linecap="round" stroke-linejoin="round" />
<polyline points="628.6,517.7 628.0,518.3 627.5,518.9 627.2,519.4 627.3,519.9 627.7,520.4 628.3,520.8 629.1,521.2 629.9,521.7 630.5,522.1 630.8,522.6 630.8,523.1 630.5,523.6 629.9,524.2 629.2,524.8 628.6,525.4 628.2,526.0 628.0,526.5 628.2,527.0 628.7,527.4 629.4,527.9 630.1,528.3 630.9,528.7 631.4,529.2 631.6,529.7 631.5,530.2 631.2,530.7 630.6,531.3 629.9,531.9 629.3,532.5 628.9,533.1 628.9,533.6 629.1,534.1 629.7,534.5 630.4,534.9 631.2,535.4 631.9,535.8 632.3,536.2 632.5,536.7 632.3,537.3 631.8,537.8 631.2,538.4 630.6,539.0 630.0,539.6 629.7,540.1 629.7,540.7 630.1,541.1 630.7,541.6 631.4,542.0 632.2,542.4 632.8,542.9" fill="none" stroke="#305a80" stroke-width="0.9" stroke-linecap="round" stroke-linejoin="round" />
<polyline points="575.5,559.0 574.8,559.6 574.3,560.1 574.1,560.6 574.1,561.1 574.5,561.6 575.1,562.1 575.8,562.5 576.5,563.0 577.1,563.4 577.4,563.9 577.5,564.4 577.1,565.0 576.6,565.5 575.9,566.1 575.3,566.6 574.8,567.2 574.6,567.7 574.7,568.2 575.1,568.7 575.7,569.1 576.4,569.6 577.2,570.0 577.7,570.5 578.0,571.0 577.9,571.5 577.6,572.0 577.0,572.6 576.3,573.1 575.7,573.7 575.3,574.2 575.1,574.7 575.2,575.2 575.7,575.7 576.3,576.2 577.1,576.6 577.8,577.1 578.3,577.5 578.5,578.0 578.4,578.5 578.1,579.1 577.5,579.6 576.8,580.2 576.2,580.7 575.7,581.3 575.6,581.8 575.8,582.3 576.3,582.8 577.0,583.2 577.7,583.7 578.4,584.1 578.9,584.6 579.1,585.1 578.9,585.6" fill="none" stroke="#305a80" stroke-width="0.9" stroke-linecap="round" stroke-linejoin="round" />
<polyline points="613.9,559.0 613.2,559.6 612.7,560.1 612.5,560.6 612.5,561.1 612.9,561.6 613.5,562.1 614.2,562.5 614.9,563.0 615.5,563.4 615.8,563.9 615.9,564.4 615.5,565.0 615.0,565.5 614.3,566.1 613.7,566.6 613.2,567.2 613.0,567.7 613.1,568.2 613.5,568.7 614.1,569.1 614.8,569.6 615.6,570.0 616.1,570.5 616.4,571.0 616.3,571.5 616.0,572.0 615.4,572.6 614.7,573.1 614.1,573.7 613.7,574.2 613.5,574.7 613.6,575.2 614.1,575.7 614.7,576.2 615.5,576.6 616.2,577.1 616.7,577.5 616.9,578.0 616.8,578.5 616.5,579.1 615.9,579.6 615.2,580.2 614.6,580.7 614.1,581.3 614.0,581.8 614.2,582.3 614.7,582.8 615.4,583.2 616.1,583.7 616.8,584.1 617.3,584.6 617.5,585.1 617.3,585.6" fill="none" stroke="#305a80" stroke-width="0.9" stroke-linecap="round" stroke-linejoin="round" />
<line x1="95.6" y1="373.6" x2="96.2" y2="370.1" stroke="#35aa45" stroke-width="2.9" stroke-linecap="round"/>
<line x1="96.4" y1="369.4" x2="97.0" y2="365.9" stroke="#35aa45" stroke-width="2.9" stroke-linecap="round"/>
<line x1="99.2" y1="374.1" x2="99.8" y2="370.6" stroke="#35aa45" stroke-width="2.9" stroke-linecap="round"/>
<line x1="100.0" y1="369.9" x2="100.6" y2="366.4" stroke="#35aa45" stroke-width="2.9" stroke-linecap="round"/>
<line x1="103.5" y1="374.8" x2="104.1" y2="371.3" stroke="#35aa45" stroke-width="2.9" stroke-linecap="round"/>
<line x1="104.3" y1="370.6" x2="104.9" y2="367.1" stroke="#35aa45" stroke-width="2.9" stroke-linecap="round"/>
<line x1="107.4" y1="375.4" x2="108.0" y2="371.9" stroke="#35aa45" stroke-width="2.9" stroke-linecap="round"/>
<line x1="108.2" y1="371.2" x2="108.8" y2="367.7" stroke="#35aa45" stroke-width="2.9" stroke-linecap="round"/>
<line x1="92.4" y1="379.6" x2="91.8" y2="383.1" stroke="#35aa45" stroke-width="2.9" stroke-linecap="round"/>
<line x1="91.6" y1="383.8" x2="91.0" y2="387.3" stroke="#35aa45" stroke-width="2.9" stroke-linecap="round"/>
<line x1="96.9" y1="380.2" x2="96.3" y2="383.7" stroke="#35aa45" stroke-width="2.9" stroke-linecap="round"/>
<line x1="96.1" y1="384.4" x2="95.5" y2="387.9" stroke="#35aa45" stroke-width="2.9" stroke-linecap="round"/>
<line x1="100.8" y1="380.8" x2="100.2" y2="384.3" stroke="#35aa45" stroke-width="2.9" stroke-linecap="round"/>
<line x1="100.0" y1="385.0" x2="99.4" y2="388.5" stroke="#35aa45" stroke-width="2.9" stroke-linecap="round"/>
<line x1="105.3" y1="381.4" x2="104.7" y2="384.9" stroke="#35aa45" stroke-width="2.9" stroke-linecap="round"/>
<line x1="104.5" y1="385.6" x2="103.9" y2="389.1" stroke="#35aa45" stroke-width="2.9" stroke-linecap="round"/>
<polyline points="90.6,374.1 94.0,376.9 99.1,376.3 104.2,378.0 112.1,378.6" fill="none" stroke="#3b3b3b" stroke-width="1.4" stroke-linecap="round" stroke-linejoin="round" />
<polyline points="112.1,378.6 112.6,379.6 113.2,380.4 113.7,380.9 114.2,381.1 114.7,380.9 115.2,380.4 115.7,379.6 116.1,378.6 116.6,377.6 117.1,376.7 117.6,376.1 118.1,375.8 118.6,375.9 119.1,376.4 119.6,377.1 120.2,378.1 120.7,379.1 121.2,379.9 121.8,380.6 122.3,380.9 122.8,380.8 123.3,380.3 123.7,379.5 124.2,378.6 124.7,377.6 125.2,376.6 125.6,375.9 126.1,375.6 126.6,375.6 127.2,376.0 127.7,376.7 128.2,377.6 128.8,378.6 129.3,379.5 129.8,380.2 130.3,380.5 130.8,380.6 131.3,380.2 131.8,379.5 132.3,378.6 132.8,377.5 133.2,376.6 133.7,375.8 134.2,375.4 134.7,375.3 135.2,375.6 135.8,376.2 136.3,377.1 136.8,378.1 137.4,379.0 137.9,379.8 138.4,380.2 138.9,380.3 139.4,380.0 139.9,379.4 140.4,378.5 140.9,377.5 141.3,376.5 141.8,375.7 142.3,375.2 142.8,375.0 143.3,375.2 143.8,375.8 144.4,376.6 144.9,377.5 145.4,378.5 146.0,379.3" fill="none" stroke="#37698f" stroke-width="1.6" stroke-linecap="round" stroke-linejoin="round" />
<line x1="114.7" y1="419.1" x2="113.6" y2="414.6" stroke="#35aa45" stroke-width="2.9" stroke-linecap="round"/>
<line x1="113.4" y1="413.9" x2="112.3" y2="409.4" stroke="#35aa45" stroke-width="2.9" stroke-linecap="round"/>
<line x1="118.7" y1="418.1" x2="117.6" y2="413.6" stroke="#35aa45" stroke-width="2.9" stroke-linecap="round"/>
<line x1="117.4" y1="412.9" x2="116.3" y2="408.4" stroke="#35aa45" stroke-width="2.9" stroke-linecap="round"/>
<line x1="123.0" y1="417.1" x2="121.9" y2="412.6" stroke="#35aa45" stroke-width="2.9" stroke-linecap="round"/>
<line x1="121.7" y1="411.9" x2="120.6" y2="407.4" stroke="#35aa45" stroke-width="2.9" stroke-linecap="round"/>
<line x1="127.3" y1="416.1" x2="126.2" y2="411.6" stroke="#35aa45" stroke-width="2.9" stroke-linecap="round"/>
<line x1="126.0" y1="410.9" x2="124.9" y2="406.4" stroke="#35aa45" stroke-width="2.9" stroke-linecap="round"/>
<line x1="116.0" y1="424.4" x2="117.1" y2="428.9" stroke="#35aa45" stroke-width="2.9" stroke-linecap="round"/>
<line x1="117.3" y1="429.6" x2="118.4" y2="434.1" stroke="#35aa45" stroke-width="2.9" stroke-linecap="round"/>
<line x1="120.0" y1="423.4" x2="121.1" y2="427.9" stroke="#35aa45" stroke-width="2.9" stroke-linecap="round"/>
<line x1="121.3" y1="428.6" x2="122.4" y2="433.1" stroke="#35aa45" stroke-width="2.9" stroke-linecap="round"/>
<line x1="124.3" y1="422.4" x2="125.4" y2="426.9" stroke="#35aa45" stroke-width="2.9" stroke-linecap="round"/>
<line x1="125.6" y1="427.6" x2="126.7" y2="432.1" stroke="#35aa45" stroke-width="2.9" stroke-linecap="round"/>
<line x1="128.3" y1="421.4" x2="129.4" y2="425.9" stroke="#35aa45" stroke-width="2.9" stroke-linecap="round"/>
<line x1="129.6" y1="426.6" x2="130.7" y2="431.1" stroke="#35aa45" stroke-width="2.9" stroke-linecap="round"/>
<polyline points="110.6,422.9 118.6,420.9 127.9,418.3 134.6,416.3" fill="none" stroke="#3b3b3b" stroke-width="1.4" stroke-linecap="round" stroke-linejoin="round" />
<polyline points="134.6,416.3 135.5,416.9 136.3,417.4 137.0,417.7 137.6,417.7 138.0,417.4 138.2,416.8 138.4,416.0 138.4,415.0 138.4,413.9 138.5,412.9 138.6,412.0 138.8,411.4 139.2,411.0 139.8,411.0 140.4,411.2 141.2,411.7 142.1,412.3 143.0,412.9 143.8,413.4 144.5,413.7 145.1,413.8 145.6,413.5 145.9,413.0 146.0,412.2 146.1,411.2 146.1,410.1 146.1,409.1 146.2,408.2 146.4,407.5 146.8,407.1 147.3,407.0 148.0,407.2 148.8,407.7 149.6,408.2 150.5,408.9 151.3,409.4 152.1,409.8 152.7,409.9 153.2,409.7 153.5,409.2 153.6,408.4 153.7,407.5 153.7,406.4 153.8,405.4 153.8,404.4 154.0,403.7 154.4,403.3 154.9,403.1 155.5,403.3 156.3,403.7 157.1,404.2 158.0,404.8 158.8,405.4 159.6,405.8 160.3,405.9 160.7,405.8 161.1,405.4 161.3,404.6 161.4,403.7 161.4,402.7 161.4,401.6 161.5,400.6 161.6,399.9 162.0,399.4 162.4,399.2 163.0,399.3 163.8,399.7 164.6,400.2 165.5,400.8 166.4,401.4" fill="none" stroke="#37698f" stroke-width="1.6" stroke-linecap="round" stroke-linejoin="round" />
<line x1="86.2" y1="452.9" x2="86.8" y2="447.9" stroke="#35aa45" stroke-width="3.3" stroke-linecap="round"/>
<line x1="86.8" y1="447.1" x2="87.4" y2="442.1" stroke="#35aa45" stroke-width="3.3" stroke-linecap="round"/>
<line x1="91.7" y1="453.9" x2="92.3" y2="448.9" stroke="#35aa45" stroke-width="3.3" stroke-linecap="round"/>
<line x1="92.3" y1="448.1" x2="92.9" y2="443.1" stroke="#35aa45" stroke-width="3.3" stroke-linecap="round"/>
<line x1="96.5" y1="454.4" x2="97.1" y2="449.4" stroke="#35aa45" stroke-width="3.3" stroke-linecap="round"/>
<line x1="97.1" y1="448.6" x2="97.7" y2="443.6" stroke="#35aa45" stroke-width="3.3" stroke-linecap="round"/>
<line x1="102.1" y1="454.9" x2="102.7" y2="449.9" stroke="#35aa45" stroke-width="3.3" stroke-linecap="round"/>
<line x1="102.7" y1="449.1" x2="103.3" y2="444.1" stroke="#35aa45" stroke-width="3.3" stroke-linecap="round"/>
<line x1="82.2" y1="460.1" x2="81.6" y2="465.1" stroke="#35aa45" stroke-width="3.3" stroke-linecap="round"/>
<line x1="81.6" y1="465.9" x2="81.0" y2="470.9" stroke="#35aa45" stroke-width="3.3" stroke-linecap="round"/>
<line x1="87.8" y1="460.6" x2="87.2" y2="465.6" stroke="#35aa45" stroke-width="3.3" stroke-linecap="round"/>
<line x1="87.2" y1="466.4" x2="86.6" y2="471.4" stroke="#35aa45" stroke-width="3.3" stroke-linecap="round"/>
<line x1="93.3" y1="461.1" x2="92.7" y2="466.1" stroke="#35aa45" stroke-width="3.3" stroke-linecap="round"/>
<line x1="92.7" y1="466.9" x2="92.1" y2="471.9" stroke="#35aa45" stroke-width="3.3" stroke-linecap="round"/>
<line x1="99.2" y1="461.6" x2="98.6" y2="466.6" stroke="#35aa45" stroke-width="3.3" stroke-linecap="round"/>
<line x1="98.6" y1="467.4" x2="98.0" y2="472.4" stroke="#35aa45" stroke-width="3.3" stroke-linecap="round"/>
<polyline points="79.4,453.1 86.1,456.4 95.6,457.5 108.9,459.0" fill="none" stroke="#3b3b3b" stroke-width="1.4" stroke-linecap="round" stroke-linejoin="round" />
<polyline points="108.9,459.0 109.4,460.0 110.0,460.9 110.5,461.7 111.0,462.2 111.6,462.5 112.1,462.4 112.5,462.1 113.0,461.4 113.5,460.6 114.0,459.6 114.4,458.5 114.9,457.5 115.3,456.5 115.8,455.8 116.3,455.3 116.8,455.1 117.3,455.2 117.8,455.6 118.3,456.2 118.9,457.1 119.4,458.1 120.0,459.1 120.5,460.1 121.1,460.9 121.6,461.6 122.1,461.9 122.6,462.0 123.1,461.8 123.6,461.3 124.1,460.6 124.5,459.6 125.0,458.6 125.4,457.5 125.9,456.5 126.4,455.7 126.8,455.0 127.3,454.7 127.8,454.6 128.3,454.9 128.9,455.4 129.4,456.2 130.0,457.1 130.5,458.1 131.0,459.1 131.6,460.1 132.1,460.8 132.6,461.3 133.2,461.6 133.7,461.5 134.1,461.1 134.6,460.5 135.1,459.6 135.5,458.6 136.0,457.6 136.5,456.5 136.9,455.6 137.4,454.9 137.9,454.4 138.4,454.2 138.9,454.3 139.4,454.7 139.9,455.3 140.5,456.2 141.0,457.2 141.6,458.2 142.1,459.2 142.6,460.0 143.2,460.7 143.7,461.1 144.2,461.1 144.7,460.9 145.2,460.4 145.7,459.6 146.1,458.7 146.6,457.6 147.0,456.6 147.5,455.6 148.0,454.7 148.4,454.1 148.9,453.8 149.4,453.7 149.9,454.0 150.5,454.5 151.0,455.3 151.5,456.2 152.1,457.3 152.6,458.3 153.2,459.2 153.7,459.9 154.2,460.5 154.7,460.7" fill="none" stroke="#37698f" stroke-width="2" stroke-linecap="round" stroke-linejoin="round" />
<line x1="70.7" y1="389.7" x2="73.7" y2="392.1" stroke="#35aa45" stroke-width="3.4" stroke-linecap="round"/>
<line x1="74.3" y1="392.7" x2="77.3" y2="395.1" stroke="#35aa45" stroke-width="3.4" stroke-linecap="round"/>
<line x1="83.0" y1="399.8" x2="86.0" y2="402.3" stroke="#35aa45" stroke-width="3.4" stroke-linecap="round"/>
<line x1="86.7" y1="402.8" x2="89.7" y2="405.3" stroke="#35aa45" stroke-width="3.4" stroke-linecap="round"/>
<line x1="67.3" y1="393.8" x2="70.3" y2="396.2" stroke="#35aa45" stroke-width="3.4" stroke-linecap="round"/>
<line x1="71.0" y1="396.7" x2="74.0" y2="399.2" stroke="#35aa45" stroke-width="3.4" stroke-linecap="round"/>
<line x1="79.7" y1="403.9" x2="82.7" y2="406.4" stroke="#35aa45" stroke-width="3.4" stroke-linecap="round"/>
<line x1="83.3" y1="406.9" x2="86.3" y2="409.4" stroke="#35aa45" stroke-width="3.4" stroke-linecap="round"/>
<line x1="64.0" y1="397.9" x2="67.0" y2="400.3" stroke="#35aa45" stroke-width="3.4" stroke-linecap="round"/>
<line x1="67.6" y1="400.8" x2="70.6" y2="403.3" stroke="#35aa45" stroke-width="3.4" stroke-linecap="round"/>
<line x1="76.3" y1="408.0" x2="79.3" y2="410.5" stroke="#35aa45" stroke-width="3.4" stroke-linecap="round"/>
<line x1="79.9" y1="411.0" x2="83.0" y2="413.5" stroke="#35aa45" stroke-width="3.4" stroke-linecap="round"/>
<line x1="60.6" y1="401.9" x2="63.6" y2="404.4" stroke="#35aa45" stroke-width="3.4" stroke-linecap="round"/>
<line x1="64.2" y1="404.9" x2="67.2" y2="407.4" stroke="#35aa45" stroke-width="3.4" stroke-linecap="round"/>
<line x1="73.0" y1="412.1" x2="76.0" y2="414.6" stroke="#35aa45" stroke-width="3.4" stroke-linecap="round"/>
<line x1="76.6" y1="415.1" x2="79.6" y2="417.5" stroke="#35aa45" stroke-width="3.4" stroke-linecap="round"/>
<polyline points="85.0,392.5 77.6,398.9 70.5,407.2 64.6,416.6" fill="none" stroke="#3b3b3b" stroke-width="1.4" stroke-linecap="round" stroke-linejoin="round" />
<polyline points="64.6,416.6 63.5,416.6 62.5,416.6 61.6,416.7 60.8,416.9 60.2,417.1 59.8,417.5 59.7,418.0 59.7,418.6 59.9,419.3 60.3,420.1 60.9,420.9 61.4,421.8 62.1,422.7 62.6,423.6 63.1,424.4 63.5,425.2 63.7,425.8 63.7,426.4 63.4,426.9 63.0,427.2 62.4,427.4 61.5,427.6 60.6,427.6 59.5,427.6 58.5,427.6 57.4,427.6 56.4,427.7 55.5,427.8 54.8,428.0 54.2,428.3 53.9,428.7 53.8,429.2 53.9,429.8 54.2,430.5 54.6,431.3 55.2,432.2 55.8,433.1 56.4,434.0 56.9,434.8 57.4,435.7 57.7,436.4 57.8,437.0 57.8,437.6 57.5,438.0 57.0,438.3 56.3,438.5 55.4,438.6 54.5,438.7 53.4,438.7 52.3,438.7 51.2,438.7 50.3,438.8 49.4,438.9 48.7,439.1 48.3,439.4 48.0,439.8 48.0,440.4 48.1,441.0 48.4,441.8 48.9,442.6 49.5,443.5 50.1,444.4 50.7,445.3 51.2,446.1 51.6,446.9 51.9,447.6 52.0,448.2 51.9,448.8 51.5,449.1 51.0,449.4 50.2,449.6 49.3,449.7 48.3,449.7 47.2,449.7 46.2,449.7 45.1,449.8 44.2,449.8 43.4,450.0 42.7,450.2 42.3,450.6 42.1,451.0 42.1,451.6 42.3,452.3 42.7,453.0 43.2,453.9 43.8,454.8 44.4,455.7 45.0,456.5 45.5,457.4 45.9,458.2" fill="none" stroke="#37698f" stroke-width="1.9" stroke-linecap="round" stroke-linejoin="round" />
<text x="34.8" y="528.8" style="font-family:'Liberation Sans',sans-serif;font-size:12.2px" fill="#111" stroke="#111" stroke-width="0.75" text-anchor="middle">HO</text>
<line x1="45.5" y1="527.5" x2="64.3" y2="535.4" stroke="#111" stroke-width="2.2" stroke-linecap="round"/>
<line x1="60.5" y1="536.5" x2="60.5" y2="551.5" stroke="#111" stroke-width="2.2" stroke-linecap="round"/>
<line x1="65.8" y1="536.5" x2="65.8" y2="551.5" stroke="#111" stroke-width="2.2" stroke-linecap="round"/>
<text x="64" y="562" style="font-family:'Liberation Sans',sans-serif;font-size:12.2px" fill="#111" stroke="#111" stroke-width="0.75" text-anchor="middle">O</text>
<line x1="64.3" y1="535.4" x2="82" y2="524.4" stroke="#111" stroke-width="2.2" stroke-linecap="round"/>
<line x1="82" y1="524.4" x2="66.5" y2="509" stroke="#111" stroke-width="2.2" stroke-linecap="round"/>
<line x1="82" y1="524.4" x2="97.5" y2="509" stroke="#111" stroke-width="2.2" stroke-linecap="round"/>
<line x1="82" y1="524.4" x2="102" y2="535.4" stroke="#5fb56a" stroke-width="2.2" stroke-linecap="round"/>
<line x1="102" y1="535.4" x2="121.9" y2="524.4" stroke="#5fb56a" stroke-width="2.2" stroke-linecap="round"/>
<line x1="121.9" y1="524.4" x2="145.5" y2="531.8" stroke="#111" stroke-width="2.2" stroke-linecap="round"/>
<path d="M93.5,519.5 Q87.5,530.5 93.5,542" fill="none" stroke="#5fb56a" stroke-width="2.2"/>
<path d="M122,523.5 Q128,533 122,542.5" fill="none" stroke="#5fb56a" stroke-width="2.2"/>
<text x="128" y="547" style="font-family:'Liberation Sans',sans-serif;font-size:10px" fill="#5fb56a" stroke="#5fb56a" stroke-width="0.3">m</text>
<line x1="102" y1="535.4" x2="102" y2="552.4" stroke="#5fb56a" stroke-width="2.2" stroke-linecap="round"/>
<line x1="102" y1="552.4" x2="88" y2="562" stroke="#5fb56a" stroke-width="2.2" stroke-linecap="round"/>
<line x1="100.5" y1="549" x2="87" y2="558.5" stroke="#5fb56a" stroke-width="2.2" stroke-linecap="round"/>
<text x="84.5" y="570.5" style="font-family:'Liberation Sans',sans-serif;font-size:12.2px" fill="#5fb56a" stroke="#5fb56a" stroke-width="0.75" text-anchor="middle">O</text>
<line x1="102" y1="552.4" x2="115" y2="563" stroke="#5fb56a" stroke-width="2.2" stroke-linecap="round"/>
<text x="119.2" y="573" style="font-family:'Liberation Sans',sans-serif;font-size:12.2px" fill="#5fb56a" stroke="#5fb56a" stroke-width="0.75" text-anchor="middle">O</text>
<line x1="119.2" y1="574" x2="119.2" y2="591.2" stroke="#5fb56a" stroke-width="2.2" stroke-linecap="round"/>
<line x1="119.2" y1="591.2" x2="104" y2="599.2" stroke="#5fb56a" stroke-width="2.2" stroke-linecap="round"/>
<line x1="104" y1="599.2" x2="104" y2="621.1" stroke="#5fb56a" stroke-width="2.2" stroke-linecap="round"/>
<line x1="104" y1="621.1" x2="84.6" y2="632.4" stroke="#5fb56a" stroke-width="2.2" stroke-linecap="round"/>
<path d="M97.5,612.5 Q90,626 97.5,639" fill="none" stroke="#5fb56a" stroke-width="2.2"/>
<path d="M108,612.5 Q115.5,626 108,639" fill="none" stroke="#5fb56a" stroke-width="2.2"/>
<text x="114.5" y="642" style="font-family:'Liberation Sans',sans-serif;font-size:11px" fill="#5fb56a" stroke="#5fb56a" stroke-width="0.4">19</text>
<path d="M148.5,519.5 Q142.5,530.5 148.5,541" fill="none" stroke="#1a1aa8" stroke-width="2.2"/>
<line x1="145.5" y1="531.8" x2="154" y2="534.5" stroke="#111" stroke-width="2.2" stroke-linecap="round"/>
<line x1="154" y1="534.5" x2="172" y2="525.2" stroke="#1a1aa8" stroke-width="2.2" stroke-linecap="round"/>
<path d="M171.5,520 Q177.5,530.5 171.5,541.5" fill="none" stroke="#1a1aa8" stroke-width="2.2"/>
<text x="173.5" y="546" style="font-family:'Liberation Sans',sans-serif;font-size:10px" fill="#1a1aa8" stroke="#1a1aa8" stroke-width="0.3">n</text>
<line x1="175" y1="527.6" x2="181" y2="530.5" stroke="#1a1aa8" stroke-width="2.2" stroke-linecap="round"/>
<line x1="154" y1="534.5" x2="154" y2="552.4" stroke="#1a1aa8" stroke-width="2.2" stroke-linecap="round"/>
<line x1="154" y1="552.4" x2="166.5" y2="559" stroke="#1a1aa8" stroke-width="2.2" stroke-linecap="round"/>
<line x1="156" y1="549" x2="168" y2="555.5" stroke="#1a1aa8" stroke-width="2.2" stroke-linecap="round"/>
<text x="171" y="564" style="font-family:'Liberation Sans',sans-serif;font-size:12.2px" fill="#1a1aa8" stroke="#1a1aa8" stroke-width="0.75" text-anchor="middle">O</text>
<line x1="154" y1="552.4" x2="144.5" y2="557.5" stroke="#1a1aa8" stroke-width="2.2" stroke-linecap="round"/>
<text x="139.5" y="564.5" style="font-family:'Liberation Sans',sans-serif;font-size:12.2px" fill="#1a1aa8" stroke="#1a1aa8" stroke-width="0.75" text-anchor="middle">N</text>
<line x1="123.4" y1="559.8" x2="133.5" y2="559.8" stroke="#1a1aa8" stroke-width="2.2" stroke-linecap="round"/>
<line x1="144" y1="565.5" x2="151.7" y2="575.6" stroke="#1a1aa8" stroke-width="2.2" stroke-linecap="round"/>
<text x="186.8" y="537.2" style="font-family:'Liberation Sans',sans-serif;font-size:12.2px" fill="#111" stroke="#111" stroke-width="0.75" text-anchor="middle">S</text>
<line x1="192" y1="531" x2="206" y2="523.7" stroke="#111" stroke-width="2.2" stroke-linecap="round"/>
<line x1="204.2" y1="509.5" x2="204.2" y2="523.7" stroke="#111" stroke-width="2.2" stroke-linecap="round"/>
<line x1="208.3" y1="509.5" x2="208.3" y2="523.7" stroke="#111" stroke-width="2.2" stroke-linecap="round"/>
<text x="206.2" y="506.5" style="font-family:'Liberation Sans',sans-serif;font-size:12.2px" fill="#111" stroke="#111" stroke-width="0.75" text-anchor="middle">S</text>
<line x1="206" y1="523.7" x2="220.5" y2="531" stroke="#111" stroke-width="2.2" stroke-linecap="round"/>
<text x="224.6" y="538" style="font-family:'Liberation Sans',sans-serif;font-size:12.2px" fill="#111" stroke="#111" stroke-width="0.75" text-anchor="middle">S</text>
<line x1="230" y1="530.7" x2="240" y2="525.2" stroke="#111" stroke-width="2.2" stroke-linecap="round"/>
<line x1="240" y1="525.2" x2="255.6" y2="533.8" stroke="#111" stroke-width="2.2" stroke-linecap="round"/>
<line x1="255.6" y1="533.8" x2="271.1" y2="525.2" stroke="#111" stroke-width="2.2" stroke-linecap="round"/>
<path d="M252,517 Q244.5,530 252,543" fill="none" stroke="#111" stroke-width="2.2"/>
<path d="M260.5,517 Q268,530 260.5,543" fill="none" stroke="#111" stroke-width="2.2"/>
<text x="265" y="547" style="font-family:'Liberation Sans',sans-serif;font-size:11px" fill="#111" stroke="#111" stroke-width="0.4">10</text>
<circle cx="248.3" cy="603.7" r="3.6" fill="#9000a0"/>
<circle cx="248.3" cy="640.5" r="3.6" fill="#9000a0"/>
<text x="278.3" y="613.6" style="font-family:'Liberation Serif',serif;font-weight:bold;font-size:31px" fill="#9000a0" text-anchor="start" >One-pot Synthesis</text>
<text x="278.3" y="650.4" style="font-family:'Liberation Serif',serif;font-weight:bold;font-size:31px" fill="#9000a0" text-anchor="start" >High concentration</text></svg></body></html>
